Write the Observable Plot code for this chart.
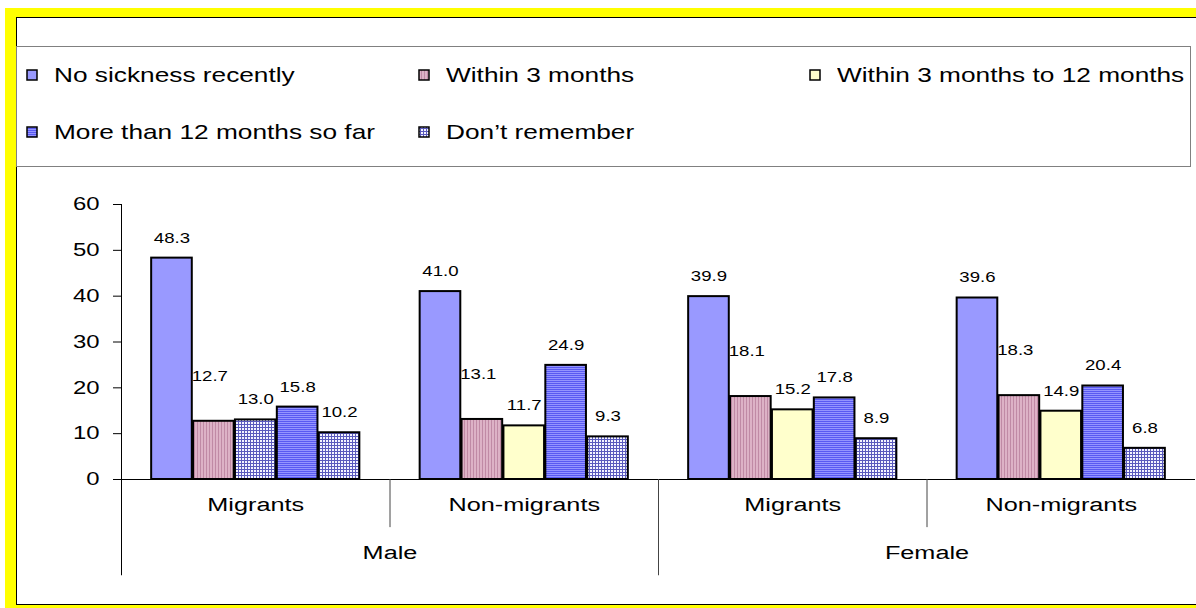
<!DOCTYPE html>
<html>
<head>
<meta charset="utf-8">
<script src="https://cdn.jsdelivr.net/npm/d3@7"></script>
<script src="https://cdn.jsdelivr.net/npm/@observablehq/plot@0.6"></script>
<style>
  html, body { margin: 0; padding: 0; background: #fff; }
  body { width: 1196px; height: 608px; overflow: hidden; position: relative; font-family: "Liberation Sans", Arial, sans-serif; }
  #frame { position: absolute; left: 5px; top: 8px; width: 1191px; height: 600px; background: #FFFF00; }
  #inner { position: absolute; left: 11px; top: 9px; width: 1179px; height: 586px; background: #fff;
           border-top: 1px solid #000; border-left: 1px solid #000; border-bottom: 1px solid #000; }
  #legend { position: absolute; left: -1px; top: 28px; width: 1175px; height: 121px; box-sizing: border-box;
            border: 1px solid #808080; }
  .item { position: absolute; height: 24px; display: flex; align-items: center; transform: translateY(-50%); }
  .item svg { display: block; }
  .item span { display: inline-block; font-size: 21px; color: #000; white-space: nowrap; margin-left: 16px;
               transform: scaleX(1.25); transform-origin: left center; }
  #chart { position: absolute; left: 0; top: 149px; }
</style>
</head>
<body>
<div id="frame"><div id="inner"><div id="legend"></div><div id="chart"></div></div></div>
<script>
// ---- data ----
const series = ["No sickness recently", "Within 3 months", "Within 3 months to 12 months", "More than 12 months so far", "Don’t remember"];
const sexes = ["Male", "Female"];
const groups = ["Migrants", "Non-migrants"];
// values per cluster: Male-Migrants, Male-Non-migrants, Female-Migrants, Female-Non-migrants
const noSickness   = [48.3, 41.0, 39.9, 39.6];
const within3      = [12.7, 13.1, 18.1, 18.3];
const within3to12  = [13.0, 11.7, 15.2, 14.9];
const moreThan12   = [15.8, 24.9, 17.8, 20.4];
const dontRemember = [10.2, 9.3, 8.9, 6.8];
const yTicks = [0, 10, 20, 30, 40, 50, 60];

// ---- build table ----
const seriesValues = [noSickness, within3, within3to12, moreThan12, dontRemember];
const clusters = sexes.flatMap((sex, si) => groups.map((group, gi) => ({sex, group, i: si * groups.length + gi})));
const rows = clusters.flatMap(c => series.map((s, k) => ({...c, series: s, value: seriesValues[k][c.i]})));

// fills (patterns defined below)
const fills = ["#9999FF", "url(#pat-w3)", "#FFFFCC", "url(#pat-m12)", "url(#pat-dr)"];
// in the original, the Male/Migrants "3 to 12 months" bar is drawn with the "Don’t remember" pattern
const fillKey = d => (d.sex === "Male" && d.group === "Migrants" && d.series === series[2]) ? series[4] : d.series;

// position of each series inside a cluster (cluster = one unit on x)
const band = d3.scaleBand().domain(series).range([0, 1]).paddingInner(0.03).paddingOuter(0.72);
const bx1 = d => d.i + band(d.series);
const bx2 = d => d.i + band(d.series) + band.bandwidth();
const bxc = d => d.i + band(d.series) + band.bandwidth() / 2;

const isW3 = d => d.series === series[1];

const chart = Plot.plot({
  width: 1179,
  height: 437,
  marginTop: 37,
  marginBottom: 125,
  marginLeft: 104,
  marginRight: 1,
  x: {type: "linear", domain: [0, clusters.length], axis: null},
  y: {domain: [0, 60]},
  color: {type: "ordinal", domain: series, range: fills},
  style: {fontFamily: "'Liberation Sans', Arial, sans-serif", background: "transparent", overflow: "visible", color: "#000"},
  marks: [
    Plot.rectY(rows, {x1: bx1, x2: bx2, y1: 0, y2: "value", fill: fillKey, stroke: "#000", strokeWidth: 2}),
    Plot.ruleY([0], {stroke: "#000", strokeWidth: 1}),
    Plot.ruleX([0], {y1: -21, y2: 60, stroke: "#000", strokeWidth: 1}),
    Plot.ruleX(clusters.filter(c => c.i % 2 === 1), {x: d => d.i, y1: 0, y2: -10.5, stroke: "#444", strokeWidth: 1}),
    Plot.ruleX(clusters.filter(c => c.i % 2 === 0 && c.i > 0), {x: d => d.i, y1: 0, y2: -21, stroke: "#444", strokeWidth: 1}),
    Plot.axisY({ticks: yTicks, tickSize: 8, tickPadding: 14, fontSize: 18, label: null, tickFormat: d => String(d)}),
    Plot.text(rows.filter(d => !isW3(d)), {x: bxc, y: "value", text: d => d.value.toFixed(1), dy: -20, fontSize: 14, fill: "#000"}),
    Plot.text(rows.filter(isW3), {x: bxc, y: "value", text: d => d.value.toFixed(1), dy: -45, dx: -4, fontSize: 14, fill: "#000"}),
    Plot.text(clusters, {x: d => d.i + 0.5, frameAnchor: "bottom", dy: 31, text: "group", fontSize: 19, fill: "#000"}),
    Plot.text(sexes, {x: (d, i) => i * groups.length + groups.length / 2, frameAnchor: "bottom", dy: 79, text: d => d, fontSize: 19, fill: "#000"})
  ]
});

const svgEl = chart.tagName.toLowerCase() === "svg" ? chart : chart.querySelector("svg");
// the original artwork is horizontally stretched: widen each text about its anchor point
svgEl.querySelectorAll("text").forEach(t => {
  const tr = t.getAttribute("transform") || "";
  const xa = t.getAttribute("x");
  let x = 0;
  if (xa != null && isFinite(+xa)) { x = +xa; t.removeAttribute("x"); }
  t.setAttribute("transform", `${tr} translate(${x},0) scale(1.33,1)`);
});
// patterns
const defs = d3.select(svgEl).insert("defs", ":first-child");
const pw3 = defs.append("pattern").attr("id", "pat-w3").attr("patternUnits", "userSpaceOnUse").attr("width", 3).attr("height", 3);
pw3.append("rect").attr("width", 3).attr("height", 3).attr("fill", "#DDB2C6");
pw3.append("rect").attr("width", 1).attr("height", 3).attr("fill", "#C08AA5");
const pm = defs.append("pattern").attr("id", "pat-m12").attr("patternUnits", "userSpaceOnUse").attr("width", 2).attr("height", 2);
pm.append("rect").attr("width", 2).attr("height", 2).attr("fill", "#9595FF");
pm.append("rect").attr("width", 2).attr("height", 1).attr("fill", "#5A5AF2");
const pd = defs.append("pattern").attr("id", "pat-dr").attr("patternUnits", "userSpaceOnUse").attr("width", 3).attr("height", 3);
pd.append("rect").attr("width", 3).attr("height", 3).attr("fill", "#F4F4FF");
pd.append("rect").attr("y", 2).attr("width", 3).attr("height", 1).attr("fill", "#5A5ABD");
pd.append("rect").attr("x", 2).attr("width", 1).attr("height", 3).attr("fill", "#5A5ABD");

document.getElementById("chart").appendChild(chart);

// ---- legend ----
const legend = document.getElementById("legend");
const colX = [9, 401, 792];
const rowY = [28, 85];
series.forEach((s, k) => {
  const col = k % 3, row = Math.floor(k / 3);
  const item = document.createElement("div");
  item.className = "item";
  item.style.left = colX[col] + "px";
  item.style.top = rowY[row] + "px";
  item.innerHTML = `<svg width="12" height="12"><rect x="1" y="1" width="10" height="10" fill="${fills[k]}" stroke="#000" stroke-width="1.5"></rect></svg><span>${s}</span>`;
  legend.appendChild(item);
});
</script>
</body>
</html>
